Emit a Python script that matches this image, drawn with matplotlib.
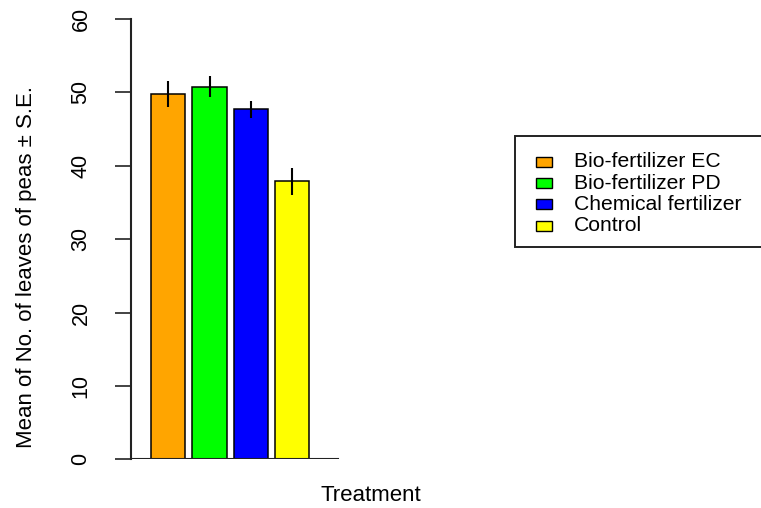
import matplotlib
matplotlib.use("Agg")
import matplotlib.pyplot as plt
from matplotlib.patches import Rectangle

plt.rcParams["font.family"] = ["Liberation Sans", "DejaVu Sans"]

# Mean number of leaves per treatment with standard errors
treatments = ["Bio-fertilizer EC", "Bio-fertilizer PD", "Chemical fertilizer", "Control"]
means = [49.8, 50.8, 47.7, 37.9]
std_errors = [1.8, 1.45, 1.15, 1.85]
colors = ["#FFA500", "#00FF00", "#0000FF", "#FFFF00"]
y_ticks = [0, 10, 20, 30, 40, 50, 60]

W, H = 761, 508
fig = plt.figure(figsize=(W / 100, H / 100), dpi=100)


def fx(px):
    return px / W


def fy(py):
    return 1 - py / H


# plotting region in pixels
left_px, right_px = 131, 609
top_px, bottom_px = 19, 459.3
ax = fig.add_axes([fx(left_px), fy(bottom_px), fx(right_px - left_px), (bottom_px - top_px) / H])

# barplot layout: unit-width bars separated by 0.2
bar_w, space = 1.0, 0.2
centers = [space + bar_w / 2 + i * (bar_w + space) for i in range(len(means))]
ax.bar(centers, means, width=bar_w, color=colors, edgecolor="black", linewidth=1.1, zorder=2)
ax.vlines(centers, [m - s for m, s in zip(means, std_errors)],
          [m + s for m, s in zip(means, std_errors)], color="black", linewidth=1.5, zorder=3)

units_per_px = 1 / 34.44
x0 = space - (151 - left_px) * units_per_px
ax.set_xlim(x0, x0 + (right_px - left_px) * units_per_px)
ax.set_ylim(0, 60)

for side in ["top", "right", "bottom"]:
    ax.spines[side].set_visible(False)
ax.spines["left"].set_linewidth(1.5)
ax.spines["left"].set_color("#222222")
ax.axhline(0, xmin=0, xmax=(338 - left_px) / (right_px - left_px), color="#222222", linewidth=1.5, zorder=4)

ax.set_xticks([])
ax.set_yticks(y_ticks)
ax.set_yticklabels([str(t) for t in y_ticks], rotation=90, va="center", ha="right", fontsize=15.5)
ax.tick_params(axis="y", length=11.5, width=1.2, pad=17, color="#222222")

fig.text(fx(27), fy(267), "Mean of No. of leaves of peas \u00b1 S.E.", rotation=90,
         ha="center", va="center", fontsize=16)
fig.text(fx(371), fy(501), "Treatment", ha="center", va="baseline", fontsize=16)

# legend drawn in figure space, its frame running past the right edge
frame = Rectangle((fx(515), fy(247)), fx(790 - 515), (247 - 136.5) / H, transform=fig.transFigure,
                  facecolor="white", edgecolor="#222222", linewidth=1.4, clip_on=False)
fig.patches.append(frame)
row_y = [161.7, 183.1, 204.5, 225.9]
for name, col, ry in zip(treatments, colors, row_y):
    fig.patches.append(Rectangle((fx(536), fy(ry + 5)), fx(16), 10 / H, transform=fig.transFigure,
                                 facecolor=col, edgecolor="black", linewidth=1.0))
    fig.text(fx(574), fy(ry), name, ha="left", va="center", fontsize=15.2)

fig.savefig("out.png", dpi=100)
